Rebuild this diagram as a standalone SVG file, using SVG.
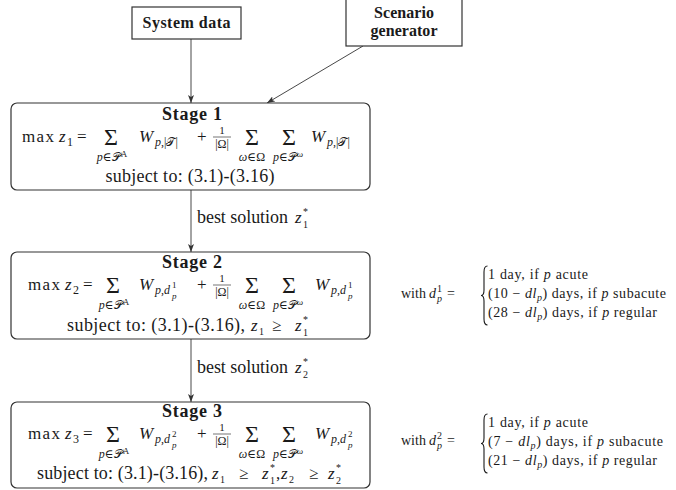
<svg xmlns="http://www.w3.org/2000/svg" width="676" height="490" viewBox="0 0 676 490">
<defs>
<style>
text { font-family: "Liberation Serif", "DejaVu Serif", serif; fill: #1a1a1a; }
.box { fill: #fff; stroke: #333; stroke-width: 1.2; }
.sq { fill: #fff; stroke: #333; stroke-width: 1.2; }
.conn { stroke: #333; stroke-width: 0.9; fill: none; marker-end: url(#ah); }
.fl { stroke: #1a1a1a; stroke-width: 0.6; }
.b { font-weight: bold; }
.i { font-style: italic; }
.n { font-style: normal; }
.f18 { font-size: 18px; }
.f17 { font-size: 17px; }
.f14 { font-size: 14px; }
.f12 { font-size: 12px; }
.f11 { font-size: 11px; }
.f10 { font-size: 10px; }
.f9 { font-size: 9px; }
.mid { text-anchor: middle; }
.sig { font-size: 24px; text-anchor: middle; }
.brace { fill: none; stroke: #1a1a1a; stroke-width: 1.1; }
</style>
<marker id="ah" viewBox="0 0 8 6" refX="8" refY="3" markerWidth="8" markerHeight="6" markerUnits="userSpaceOnUse" orient="auto"><path d="M0,0 L8,3 L0,6 L2,3 z" fill="#333"/></marker>
</defs>
<rect width="676" height="490" fill="#fff"/>

<g id="connectors">
<line x1="191" y1="39" x2="191" y2="103" class="conn"/>
<line x1="363" y1="46" x2="267" y2="103" class="conn"/>
<line x1="191" y1="190" x2="191" y2="252" class="conn"/>
<line x1="191" y1="339" x2="191" y2="402" class="conn"/>
<text class="f18" x="197" y="223" textLength="91">best solution</text>
<text class="f17 i" x="295" y="223">z</text>
<text class="f10" x="303" y="228">1</text>
<text class="f10" x="303" y="215">*</text>
<text class="f18" x="197" y="373" textLength="91">best solution</text>
<text class="f17 i" x="295" y="373">z</text>
<text class="f10" x="303" y="378">2</text>
<text class="f10" x="303" y="365">*</text>
</g>

<g id="system-data">
<rect x="132" y="7" width="109" height="32" class="sq"/>
<text class="b mid" font-size="16" x="186.5" y="28" textLength="88">System data</text>
</g>

<g id="scenario-generator">
<rect x="346" y="-2" width="116" height="48" class="sq"/>
<text class="b mid" font-size="16" x="404" y="18" textLength="60">Scenario</text>
<text class="b mid" font-size="16" x="404" y="36" textLength="67">generator</text>
</g>

<g id="stage1">
<rect x="11" y="103" width="359" height="87" rx="6" class="box"/>
<text class="b f18 mid" x="192" y="120" textLength="60">Stage 1</text>
<text class="f17" x="22" y="142" textLength="32">max</text>
<text class="f17 i" x="59" y="142">z</text>
<text class="f12" x="67" y="146">1</text>
<text class="f17" x="77" y="142">=</text>
<text class="sig" x="111" y="145">Σ</text>
<text class="f12 mid" x="112" y="161"><tspan class="i">p</tspan>∈𝒫<tspan class="f9" dy="-4">A</tspan></text>
<text class="f17 i" x="139" y="142">W</text>
<text class="f12" x="155" y="146"><tspan class="i">p</tspan>,|𝒯|</text>
<text class="f17" x="197" y="142">+</text>
<text class="mid" font-size="11" x="222" y="134">1</text>
<line x1="213" y1="137" x2="231" y2="137" class="fl"/>
<text class="f12 mid" x="222" y="148">|Ω|</text>
<text class="sig" x="252" y="145">Σ</text>
<text class="f12 mid i" x="252" y="161">ω<tspan class="n">∈Ω</tspan></text>
<text class="sig" x="289" y="145">Σ</text>
<text class="f12 mid" x="288" y="161"><tspan class="i">p</tspan>∈𝒫<tspan class="f9 i" dy="-4">ω</tspan></text>
<text class="f17 i" x="311" y="142">W</text>
<text class="f12" x="327" y="146"><tspan class="i">p</tspan>,|𝒯|</text>
<text class="f18 mid" x="190" y="182" textLength="169">subject to: (3.1)-(3.16)</text>
</g>

<g id="stage2">
<rect x="11" y="252" width="359" height="87" rx="6" class="box"/>
<text class="b f18 mid" x="192" y="268" textLength="60">Stage 2</text>
<text class="f17" x="28" y="290" textLength="32">max</text>
<text class="f17 i" x="65" y="290">z</text>
<text class="f12" x="73" y="294">2</text>
<text class="f17" x="83" y="290">=</text>
<text class="sig" x="113" y="293">Σ</text>
<text class="f12 mid" x="114" y="309"><tspan class="i">p</tspan>∈𝒫<tspan class="f9" dy="-4">A</tspan></text>
<text class="f17 i" x="139" y="290">W</text>
<text class="f12 i" x="155" y="294">p<tspan class="n">,</tspan>d</text>
<text class="f9" x="172" y="288">1</text>
<text class="f9 i" x="172" y="299">p</text>
<text class="f17" x="197" y="290">+</text>
<text class="mid" font-size="11" x="222" y="282">1</text>
<line x1="213" y1="285" x2="231" y2="285" class="fl"/>
<text class="f12 mid" x="222" y="296">|Ω|</text>
<text class="sig" x="252" y="293">Σ</text>
<text class="f12 mid i" x="252" y="309">ω<tspan class="n">∈Ω</tspan></text>
<text class="sig" x="289" y="293">Σ</text>
<text class="f12 mid" x="288" y="309"><tspan class="i">p</tspan>∈𝒫<tspan class="f9 i" dy="-4">ω</tspan></text>
<text class="f17 i" x="315" y="290">W</text>
<text class="f12 i" x="331" y="294">p<tspan class="n">,</tspan>d</text>
<text class="f9" x="348" y="288">1</text>
<text class="f9 i" x="348" y="299">p</text>
<text class="f18" x="67" y="331" textLength="178">subject to: (3.1)-(3.16),</text>
<text class="f17 i" x="251" y="331">z</text>
<text class="f10" x="259" y="335">1</text>
<text class="f17" x="272" y="331">≥</text>
<text class="f17 i" x="295" y="331">z</text>
<text class="f10" x="303" y="336">1</text>
<text class="f10" x="303" y="323">*</text>
</g>

<g id="stage3">
<rect x="11" y="402" width="359" height="86" rx="6" class="box"/>
<text class="b f18 mid" x="192" y="417" textLength="60">Stage 3</text>
<text class="f17" x="28" y="439" textLength="32">max</text>
<text class="f17 i" x="65" y="439">z</text>
<text class="f12" x="73" y="443">3</text>
<text class="f17" x="83" y="439">=</text>
<text class="sig" x="113" y="442">Σ</text>
<text class="f12 mid" x="114" y="458"><tspan class="i">p</tspan>∈𝒫<tspan class="f9" dy="-4">A</tspan></text>
<text class="f17 i" x="139" y="439">W</text>
<text class="f12 i" x="155" y="443">p<tspan class="n">,</tspan>d</text>
<text class="f9" x="172" y="437">2</text>
<text class="f9 i" x="172" y="448">p</text>
<text class="f17" x="197" y="439">+</text>
<text class="mid" font-size="11" x="222" y="431">1</text>
<line x1="213" y1="434" x2="231" y2="434" class="fl"/>
<text class="f12 mid" x="222" y="445">|Ω|</text>
<text class="sig" x="252" y="442">Σ</text>
<text class="f12 mid i" x="252" y="458">ω<tspan class="n">∈Ω</tspan></text>
<text class="sig" x="289" y="442">Σ</text>
<text class="f12 mid" x="288" y="458"><tspan class="i">p</tspan>∈𝒫<tspan class="f9 i" dy="-4">ω</tspan></text>
<text class="f17 i" x="315" y="439">W</text>
<text class="f12 i" x="331" y="443">p<tspan class="n">,</tspan>d</text>
<text class="f9" x="348" y="437">2</text>
<text class="f9 i" x="348" y="448">p</text>
<text class="f18" x="37" y="479" textLength="171">subject to: (3.1)-(3.16),</text>
<text class="f17 i" x="212" y="479">z</text>
<text class="f10" x="220" y="483">1</text>
<text class="f17" x="239" y="479">≥</text>
<text class="f17 i" x="262" y="479">z</text>
<text class="f10" x="270" y="484">1</text>
<text class="f10" x="270" y="471">*</text>
<text class="f17" x="276" y="479">,</text>
<text class="f17 i" x="281" y="479">z</text>
<text class="f10" x="289" y="483">2</text>
<text class="f17" x="309" y="479">≥</text>
<text class="f17 i" x="328" y="479">z</text>
<text class="f10" x="336" y="484">2</text>
<text class="f10" x="336" y="471">*</text>
</g>

<g id="d1-definition">
<text class="f14" x="401" y="298">with</text>
<text class="f14 i" x="429" y="298">d</text>
<text class="f10" x="437" y="292">1</text>
<text class="f10 i" x="437" y="302">p</text>
<text class="f14" x="447" y="298">=</text>
<path class="brace" d="M487.5,266 C484.5,266 484,268 484,272 L484,290 C484,293.5 483,295.5 481,295.5 C483,295.5 484,297.5 484,301 L484,319 C484,323 484.5,325 487.5,325"/>
<text class="f14" x="488" y="279" textLength="100">1 day, if <tspan class="i">p</tspan> acute</text>
<text class="f14" x="488" y="298" textLength="178">(10 − <tspan class="i">dl</tspan><tspan class="f10 i" dy="3">p</tspan><tspan dy="-3">) days, if </tspan><tspan class="i">p</tspan> subacute</text>
<text class="f14" x="488" y="317" textLength="169">(28 − <tspan class="i">dl</tspan><tspan class="f10 i" dy="3">p</tspan><tspan dy="-3">) days, if </tspan><tspan class="i">p</tspan> regular</text>
</g>

<g id="d2-definition">
<text class="f14" x="401" y="445">with</text>
<text class="f14 i" x="429" y="445">d</text>
<text class="f10" x="437" y="439">2</text>
<text class="f10 i" x="437" y="449">p</text>
<text class="f14" x="447" y="445">=</text>
<path class="brace" d="M487.5,414 C484.5,414 484,416 484,420 L484,438 C484,441.5 483,443.5 481,443.5 C483,443.5 484,445.5 484,449 L484,467 C484,471 484.5,473 487.5,473"/>
<text class="f14" x="488" y="427" textLength="100">1 day, if <tspan class="i">p</tspan> acute</text>
<text class="f14" x="488" y="446" textLength="175">(7 − <tspan class="i">dl</tspan><tspan class="f10 i" dy="3">p</tspan><tspan dy="-3">) days, if </tspan><tspan class="i">p</tspan> subacute</text>
<text class="f14" x="488" y="465" textLength="169">(21 − <tspan class="i">dl</tspan><tspan class="f10 i" dy="3">p</tspan><tspan dy="-3">) days, if </tspan><tspan class="i">p</tspan> regular</text>
</g>
</svg>
